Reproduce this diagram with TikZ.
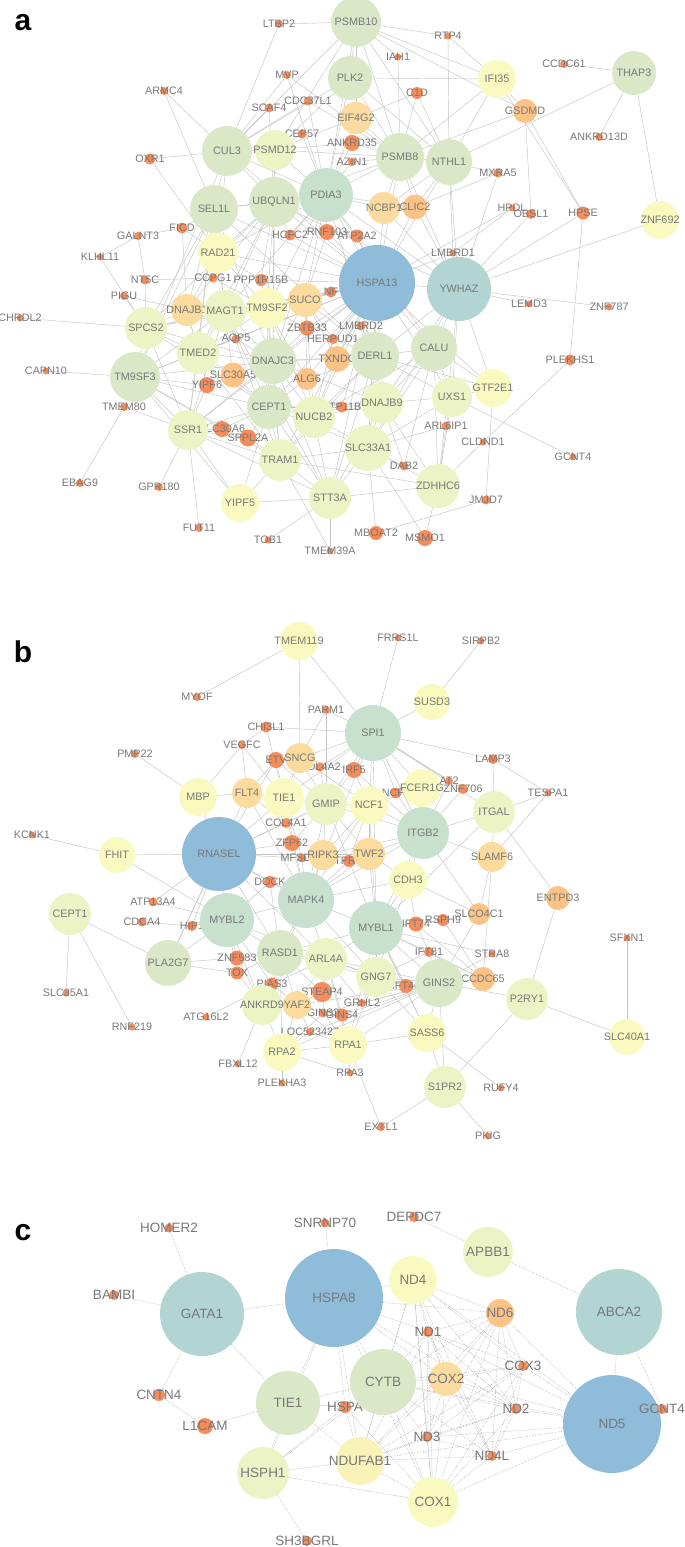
\documentclass[tikz,border=0pt]{standalone}
\usepackage{fontspec}
\setmainfont{Liberation Sans}

\definecolor{cBlue}{RGB}{143,188,217}
\definecolor{cTeal}{RGB}{178,212,210}
\definecolor{cGreen}{RGB}{200,224,206}
\definecolor{cLgreen}{RGB}{218,232,200}
\definecolor{cYg}{RGB}{236,244,198}
\definecolor{cPale}{RGB}{250,250,192}
\definecolor{cLor}{RGB}{252,220,158}
\definecolor{cOr}{RGB}{252,195,135}
\definecolor{cDot}{RGB}{245,140,90}
\definecolor{labelgray}{RGB}{120,120,120}
\definecolor{linkgray}{RGB}{196,196,196}

\pgfdeclarelayer{bg}
\pgfsetlayers{bg,main}

\tikzset{
  gene/.style={circle, inner sep=0pt, draw=none},
  genelabel/.style={text=labelgray, inner sep=0pt, font=\fontsize{10.8}{12}\selectfont},
  genelabelc/.style={genelabel, font=\fontsize{13.5}{15}\selectfont},
  link/.style={draw=linkgray, line width=0.45pt},
  linkc/.style={draw=gray!65, line width=0.55pt, densely dotted},
  panel/.style={inner sep=0pt, font=\fontsize{30}{30}\selectfont\bfseries}
}

\begin{document}
\begin{tikzpicture}[x=1pt, y=-1pt]
  \useasboundingbox (0,0) rectangle (685,1547);

  % ---------------- panel a ----------------
  \node[panel] (tagA) at (23,23) {a};
  \foreach \n/\x/\y/\d in {LTBP2/279/24/8, MVP/287/75/8, ARMC4/164/91/8, CDC37L1/308/101/9,
      SCAF4/269/108/9, CEP57/302/134/9, OXR1/150/159/11, RTP4/448/36/7, IAH1/398/57/7,
      CCDC61/564/64/8, C1D/417/93/12, ANKRD13D/599/137/8, AZIN1/352/162/8, MXRA5/498/173/9,
      HPDL/512/208/7, OBSL1/531/214/10, HPSE/583/213/13, LMBRD1/453/253/7, FICD/182/228/11,
      GALNT3/138/236/8, KLHL11/100/257/7, HCFC2/290/235/11, RNF103/327/232/16, ATP2A2/357/236/13,
      CCPG1/213/278/9, PPP1R15B/261/280/12, NT5C/145/280/9, PIGU/124/296/8, CHRDL2/20/318/7,
      NF/331/292/11, ZBTB33/307/328/15, AQP5/236/339/9, HERPUD1/333/339/10, LMBRD2/361/326/9,
      CAPN10/46/371/7, YIPF6/207/385/16, TMEM80/124/407/8, ATP11B/342/407/11, SLC30A6/222/429/16,
      SPPL2A/248/438/17, EBAG9/80/483/8, GPR180/159/487/8, FUT11/199/528/8, TOB1/268/540/7,
      TMEM39A/330/551/7, LEMD3/529/304/7, ZNF787/609/307/7, PLEKHS1/570/360/11, ARL6IP1/446/426/9,
      CLDND1/483/442/7, GCNT4/573/457/7, DAB2/404/466/9, JMJD7/486/500/9, MBOAT2/376/533/14,
      MSMO1/425/538/16, ANKRD35/352/143/16}
    \node[gene, fill=cDot, minimum size=\d, label={[genelabel]center:\n}] (a\n) at (\x,\y) {};
  \foreach \n/\x/\y/\d/\c in {GSDMD/525/111/24/cOr, CLIC2/415/207/25/cOr, TXNDC/337/359/26/cOr,
      SLC30A5/233/375/25/cOr, ALG6/307/379/22/cOr, EIF4G2/356/118/32/cLor, NCBP1/384/208/32/cLor,
      DNAJB1/187/310/32/cLor, SUCO/305/300/34/cLor,
      PSMB10/356/22/50/cLgreen, PLK2/350/78/44/cLgreen, IFI35/497/79/38/cPale,
      THAP3/634/73/44/cLgreen, PSMB8/400/157/48/cLgreen, NTHL1/449/162/46/cLgreen,
      ZNF692/660/220/38/cPale, CUL3/227/151/50/cLgreen, PSMD12/275/150/40/cYg,
      SEL1L/214/209/48/cLgreen, UBQLN1/274/202/50/cLgreen, PDIA3/326/195/54/cGreen,
      RAD21/218/253/40/cPale, SPCS2/146/328/42/cYg, MAGT1/225/311/42/cYg, TM9SF2/267/308/40/cPale,
      TMED2/198/353/42/cYg, DNAJC3/273/361/46/cLgreen, TM9SF3/135/377/50/cLgreen,
      CEPT1/269/407/44/cLgreen, NUCB2/314/417/42/cYg, SSR1/188/430/40/cYg, TRAM1/280/460/42/cYg,
      YIPF5/240/503/38/cPale, STT3A/330/498/42/cYg, DERL1/375/356/48/cLgreen,
      CALU/434/348/46/cLgreen, GTF2E1/493/388/38/cPale, UXS1/452/397/40/cYg,
      DNAJB9/382/403/42/cYg, SLC33A1/368/448/46/cYg, ZDHHC6/438/486/44/cYg,
      YWHAZ/459/289/64/cTeal, HSPA13/377/283/76/cBlue}
    \node[gene, fill=\c, minimum size=\d, label={[genelabel]center:\n}] (a\n) at (\x,\y) {};

  \begin{pgfonlayer}{bg}
    \foreach \s/\ts in {
      HSPA13/{PDIA3,UBQLN1,SEL1L,RAD21,CUL3,DERL1,DNAJB9,CALU,YWHAZ,SUCO,TM9SF2,DNAJC3,NUCB2,CEPT1,TXNDC,HERPUD1,ZBTB33,LMBRD2,RNF103,ATP2A2,HCFC2,PPP1R15B,MAGT1,TMED2,SPCS2,TM9SF3,SSR1,TRAM1,STT3A,SLC33A1,NCBP1,CLIC2,PSMB8,NTHL1,LMBRD1,HPDL,GTF2E1,UXS1,ALG6,ATP11B,NF},
      YWHAZ/{PDIA3,PSMB8,NTHL1,CALU,DERL1,UXS1,GTF2E1,DNAJB9,SLC33A1,ZDHHC6,CLIC2,NCBP1,MXRA5,OBSL1,HPSE,LEMD3,ZNF787,ZNF692,LMBRD1,UBQLN1},
      PDIA3/{UBQLN1,SEL1L,CUL3,PSMD12,PSMB8,PSMB10,PLK2,EIF4G2,ANKRD35,AZIN1,NCBP1,CLIC2,RNF103,HCFC2,ATP2A2,DERL1,CALU,DNAJC3,TM9SF2,SUCO,MAGT1,RAD21,CEP57,CDC37L1,MVP},
      UBQLN1/{CUL3,SEL1L,PSMD12,RAD21,HCFC2,PPP1R15B,DNAJB1,MAGT1,TM9SF2,TMED2,SPCS2,DNAJC3,PSMB8,SCAF4},
      SEL1L/{CUL3,RAD21,FICD,DNAJB1,MAGT1,SPCS2,TMED2,TM9SF3,DERL1,DNAJC3,ARMC4,SSR1},
      CUL3/{PSMD12,PLK2,PSMB10,RAD21,OXR1,ARMC4,SCAF4,MVP,LTBP2,CDC37L1,TM9SF3},
      PSMD12/{PSMB8,PSMB10,PLK2,EIF4G2,CEP57,ANKRD35,DNAJC3},
      PSMB8/{PSMB10,PLK2,NTHL1,EIF4G2,C1D,IAH1,IFI35,GSDMD,NCBP1,CLIC2,ANKRD35,AZIN1,CDC37L1,MVP},
      PSMB10/{PLK2,IFI35,RTP4,IAH1,GSDMD,NTHL1,EIF4G2,LTBP2},
      NTHL1/{C1D,IFI35,MXRA5,CLIC2,NCBP1,LMBRD1,THAP3,RTP4,PLK2},
      IFI35/{RTP4,PLK2,GSDMD,HPSE},
      GSDMD/{HPSE,OBSL1},
      HPSE/{PLEKHS1},
      THAP3/{CCDC61,ANKRD13D,ZNF692},
      DERL1/{CALU,DNAJB9,TXNDC,HERPUD1,LMBRD2,ALG6,NUCB2,DNAJC3,SLC33A1,UXS1,SUCO,STT3A,TRAM1,GTF2E1},
      CALU/{DNAJB9,UXS1,GTF2E1,SLC33A1,ZDHHC6,DAB2,NUCB2},
      DNAJC3/{TM9SF2,MAGT1,TMED2,CEPT1,NUCB2,ALG6,SLC30A5,AQP5,ZBTB33,TXNDC,SUCO,SSR1,TRAM1,STT3A,DNAJB9,YIPF6,SPCS2,TM9SF3},
      TMED2/{TM9SF3,SPCS2,MAGT1,DNAJB1,TM9SF2,YIPF6,SLC30A5,CEPT1,SSR1,AQP5,TRAM1},
      TM9SF3/{SPCS2,SSR1,YIPF6,SLC30A6,MAGT1,CEPT1,TRAM1,YIPF5,CAPN10,TMEM80},
      SPCS2/{DNAJB1,MAGT1,SSR1,CHRDL2,KLHL11,NT5C,PIGU,TM9SF2,CEPT1},
      MAGT1/{DNAJB1,TM9SF2,SUCO,CEPT1,AQP5,SLC30A5,STT3A,TRAM1,SSR1},
      TM9SF2/{SUCO,ZBTB33,CEPT1,NUCB2,ALG6,PPP1R15B,CCPG1,TRAM1},
      SUCO/{ZBTB33,HERPUD1,TXNDC,NF,NUCB2,ALG6,RNF103},
      CEPT1/{NUCB2,SSR1,TRAM1,STT3A,SLC30A5,SLC30A6,SPPL2A,ALG6,YIPF5,ATP11B,SLC33A1,DNAJB9},
      NUCB2/{DNAJB9,SLC33A1,STT3A,TRAM1,ALG6,ATP11B,TXNDC,HERPUD1},
      SSR1/{SLC30A6,SPPL2A,TRAM1,YIPF5,STT3A,YIPF6,GPR180,FUT11,TMEM80},
      TRAM1/{STT3A,YIPF5,SPPL2A,SLC33A1,ZDHHC6,TMEM39A},
      STT3A/{YIPF5,SLC33A1,ZDHHC6,TOB1,TMEM39A,DNAJB9},
      SLC33A1/{DNAJB9,ZDHHC6,UXS1,ARL6IP1,MBOAT2,MSMO1,DAB2},
      DNAJB9/{UXS1,ZDHHC6,DAB2,ATP11B},
      UXS1/{GTF2E1,ZDHHC6,ARL6IP1,GCNT4},
      ZDHHC6/{CLDND1,MSMO1,ARL6IP1},
      GTF2E1/{JMJD7},
      RAD21/{DNAJB1,MAGT1,CCPG1,PPP1R15B,TM9SF2,OXR1,FICD},
      DNAJB1/{FICD,PIGU,YIPF6},
      MBOAT2/{JMJD7}, CLDND1/{PLEKHS1}, TMEM80/{EBAG9}, KLHL11/{GALNT3},
      GALNT3/{FICD,NT5C}, NT5C/{CCPG1}, C1D/{EIF4G2}, EIF4G2/{ANKRD35},
      MXRA5/{CLIC2}, HPDL/{LMBRD1}}
      {\foreach \t in \ts {\draw[link] (a\s) -- (a\t);}}
  \end{pgfonlayer}

  % ---------------- panel b ----------------
  \node[panel] (tagB) at (23,652) {b};
  \foreach \n/\x/\y/\d in {MYOF/197/697/8, PARM1/326/710/8, CHI3L1/266/727/11, VEGFC/242/745/8,
      PMP22/135/754/8, COL4A2/320/767/9, KCNK1/32/835/7, FRRS1L/398/638/7, SIRPB2/481/641/7,
      LAMP3/493/759/10, AT2/449/781/8, ZNF706/463/789/10, NCF2/396/793/11, TESPA1/548/793/7,
      COL4A1/286/823/10, MFSD12/302/858/9, TPRU/349/861/12, DOCK/270/882/12, HIP1/192/926/10,
      ATP13A4/153/902/9, CDCA4/142/922/9, RSPH9/443/920/12, IFT81/429/952/10, PIAS3/272/984/13,
      GRHL2/362/1003/8, GINS3/323/1013/9, GINS4/342/1015/13, LOC523427/310/1032/8, RPA3/350/1073/7,
      FBXL12/238/1064/7, PLEKHA3/282/1083/7, ATG16L2/206/1017/7, SLC35A1/66/993/7, RNF219/132/1027/7,
      STRA8/492/954/7, SFXN1/627/938/7, RUFY4/501/1088/7, EXTL1/381/1127/8, PKIG/488/1136/7,
      TOX/237/973/13, ZNF583/237/958/15, IFT74/416/924/15, IFT46/406/986/14, IRF5/354/770/16,
      ETV/276/760/16, ZFP62/292/843/16, STEAP4/322/992/20}
    \node[gene, fill=cDot, minimum size=\d, label={[genelabel]center:\n}] (b\n) at (\x,\y) {};
  \foreach \n/\x/\y/\d/\c in {ENTPD3/558/898/24/cOr, SLCO4C1/479/914/22/cOr, CCDC65/483/979/24/cOr,
      FLT4/247/793/30/cLor, SNCG/300/758/30/cLor, RIPK3/323/855/30/cLor, TWF2/369/854/32/cLor,
      SLAMF6/492/857/30/cLor, YAF2/297/1005/28/cLor,
      TMEM119/299/641/38/cPale, SUSD3/432/702/36/cPale, MBP/198/797/38/cPale, TIE1/284/798/40/cPale,
      GMIP/326/804/42/cYg, NCF1/369/805/38/cPale, FCER1G/422/788/38/cPale, ITGAL/494/812/42/cYg,
      FHIT/117/855/36/cPale, CDH3/408/880/38/cPale, CEPT1/70/914/42/cYg, PLA2G7/168/963/46/cLgreen,
      RASD1/280/953/46/cLgreen, ARL4A/326/959/42/cYg, GNG7/376/977/40/cYg, ANKRD9/262/1005/40/cYg,
      RPA2/282/1052/38/cPale, RPA1/348/1045/38/cPale, SASS6/427/1033/38/cPale, P2RY1/527/999/42/cYg,
      SLC40A1/627/1037/36/cPale, S1PR2/445/1087/42/cYg, GINS2/439/983/48/cLgreen,
      ITGB2/423/833/52/cGreen, SPI1/373/733/56/cGreen, MAPK4/306/900/56/cGreen,
      MYBL1/376/928/54/cGreen, MYBL2/227/920/54/cGreen, RNASEL/219/854/74/cBlue}
    \node[gene, fill=\c, minimum size=\d, label={[genelabel]center:\n}] (b\n) at (\x,\y) {};

  \begin{pgfonlayer}{bg}
    \foreach \s/\ts in {
      RNASEL/{MBP,FLT4,TIE1,COL4A1,ZFP62,MFSD12,RIPK3,DOCK,MAPK4,MYBL2,HIP1,ATP13A4,FHIT,RASD1,GMIP,TWF2,ARL4A,PLA2G7,ETV},
      MAPK4/{MYBL2,MYBL1,RASD1,ARL4A,GMIP,NCF1,TIE1,RIPK3,TWF2,ZFP62,DOCK,ITGB2,GNG7,CDH3,FLT4,PIAS3,MFSD12,TPRU,SPI1},
      MYBL1/{ITGB2,CDH3,TWF2,GNG7,ARL4A,GINS2,IFT74,RSPH9,IFT81,IFT46,CCDC65,STRA8,SASS6,RPA1,NCF1,GMIP,SPI1,RASD1},
      MYBL2/{RASD1,HIP1,ATP13A4,PLA2G7,ZNF583,TOX,DOCK,ARL4A,ANKRD9,PIAS3,FHIT},
      SPI1/{IRF5,NCF2,NCF1,FCER1G,ITGB2,GMIP,TIE1,SNCG,PARM1,CHI3L1,ITGAL,AT2,ZNF706,LAMP3,SUSD3,FRRS1L,TMEM119,COL4A2},
      ITGB2/{NCF1,NCF2,FCER1G,ITGAL,TWF2,CDH3,SLAMF6,ZNF706,AT2,GMIP,RIPK3,IRF5,SLCO4C1},
      GMIP/{TIE1,NCF1,SNCG,COL4A2,IRF5,RIPK3,TWF2,ZFP62,COL4A1,PARM1,ETV},
      TIE1/{FLT4,SNCG,ETV,COL4A1,VEGFC,ZFP62,MFSD12,CHI3L1},
      FLT4/{VEGFC,ETV,MBP,COL4A1},
      SNCG/{ETV,COL4A2,TMEM119,PARM1,IRF5,NCF1},
      NCF1/{NCF2,FCER1G,TWF2,IRF5,TPRU,RIPK3},
      RASD1/{ARL4A,ZNF583,TOX,PIAS3,ANKRD9,YAF2,STEAP4,GNG7,RPA2,DOCK},
      ARL4A/{GNG7,STEAP4,YAF2,GINS3,GINS4,GRHL2,RPA1,IFT46,GINS2,PIAS3},
      GNG7/{GINS2,IFT46,SASS6,GRHL2,RPA1,CDH3,IFT81},
      GINS2/{IFT46,GINS4,GINS3,RPA1,RPA2,SASS6,S1PR2,P2RY1,CCDC65,SLCO4C1,IFT81,YAF2,LOC523427,STRA8,GRHL2},
      RPA1/{RPA2,RPA3,GINS4,GINS3,YAF2,LOC523427,EXTL1,SASS6},
      RPA2/{YAF2,ANKRD9,LOC523427,PLEKHA3,RPA3,GINS3},
      ANKRD9/{YAF2,PIAS3,FBXL12,TOX,ZNF583},
      YAF2/{STEAP4,GINS3,LOC523427,PIAS3},
      CDH3/{TWF2,IFT74,SLCO4C1},
      TMEM119/{MYOF}, MBP/{PMP22,VEGFC}, FHIT/{KCNK1},
      CEPT1/{PLA2G7,SLC35A1,RNF219}, PLA2G7/{ZNF583,TOX,RNASEL},
      HIP1/{CDCA4}, PIAS3/{ATG16L2}, SUSD3/{SIRPB2},
      LAMP3/{TESPA1,ITGAL}, TESPA1/{ITGAL,SLAMF6}, ITGAL/{SLAMF6,ENTPD3,MYBL1},
      P2RY1/{ENTPD3,SLC40A1,S1PR2}, SLC40A1/{SFXN1}, S1PR2/{SASS6,EXTL1,PKIG},
      SASS6/{RUFY4,MYBL1}, SLCO4C1/{SLAMF6}, CCDC65/{RSPH9,IFT74,IFT81,SLAMF6},
      VEGFC/{CHI3L1}, IFT74/{RSPH9,IFT81}}
      {\foreach \t in \ts {\draw[link] (b\s) -- (b\t);}}
  \end{pgfonlayer}

  % ---------------- panel c ----------------
  \node[panel] (tagC) at (23,1233) {c};
  \foreach \n/\x/\y/\d in {HOMER2/169/1228/9, SNRNP70/325/1223/9, BAMBI/114/1295/10,
      DEPDC7/414/1217/10, CNTN4/159/1395/12, L1CAM/205/1426/16, HSPA/345/1407/12,
      ND1/428/1332/10, COX3/523/1366/10, ND2/516/1409/10, ND3/427/1437/10, ND4L/492/1456/10,
      SH3BGRL/307/1541/10}
    \node[gene, fill=cDot, minimum size=\d, label={[genelabelc]center:\n}] (c\n) at (\x,\y) {};
  \foreach \n/\x/\y/\d/\c in {ND6/500/1313/28/cOr, COX2/446/1379/34/cLor,
      APBB1/488/1252/50/cYg, ND4/413/1280/48/cPale, NDUFAB1/360/1461/48/cPale!75!cLor,
      COX1/433/1502/50/cPale, HSPH1/263/1473/52/cYg, TIE1/288/1403/64/cLgreen,
      CYTB/383/1382/66/cLgreen, GATA1/202/1314/84/cTeal, ABCA2/619/1312/86/cTeal,
      HSPA8/334/1298/98/cBlue, ND5/612/1424/98/cBlue, GCNT4/662/1409/10/cDot}
    \node[gene, fill=\c, minimum size=\d, label={[genelabelc]center:\n}] (c\n) at (\x,\y) {};

  \begin{pgfonlayer}{bg}
    \foreach \s/\ts in {
      GATA1/{HOMER2,BAMBI,HSPA8,CNTN4,TIE1}, L1CAM/{CNTN4,TIE1},
      HSPA8/{SNRNP70,TIE1,ND4,CYTB,COX2,ND1,NDUFAB1,HSPA,COX1,ND6,ND2,HSPH1},
      APBB1/{DEPDC7,ABCA2}, ABCA2/{ND5,GCNT4}, ND5/{GCNT4},
      HSPH1/{SH3BGRL,TIE1,NDUFAB1,HSPA,COX1,CYTB},
      TIE1/{HSPA,CYTB,NDUFAB1}, HSPA/{CYTB,NDUFAB1,COX1}}
      {\foreach \t in \ts {\draw[linkc] (c\s) -- (c\t);}}
    % mitochondrial genes, all pairs
    \foreach \u [count=\i] in {ND1,ND2,ND3,ND4,ND4L,ND5,ND6,COX1,COX2,COX3,CYTB,NDUFAB1}
      \foreach \v [count=\j] in {ND1,ND2,ND3,ND4,ND4L,ND5,ND6,COX1,COX2,COX3,CYTB,NDUFAB1}
        {\ifnum\j>\i \draw[linkc] (c\u) -- (c\v); \fi}
  \end{pgfonlayer}
\end{tikzpicture}
\end{document}
